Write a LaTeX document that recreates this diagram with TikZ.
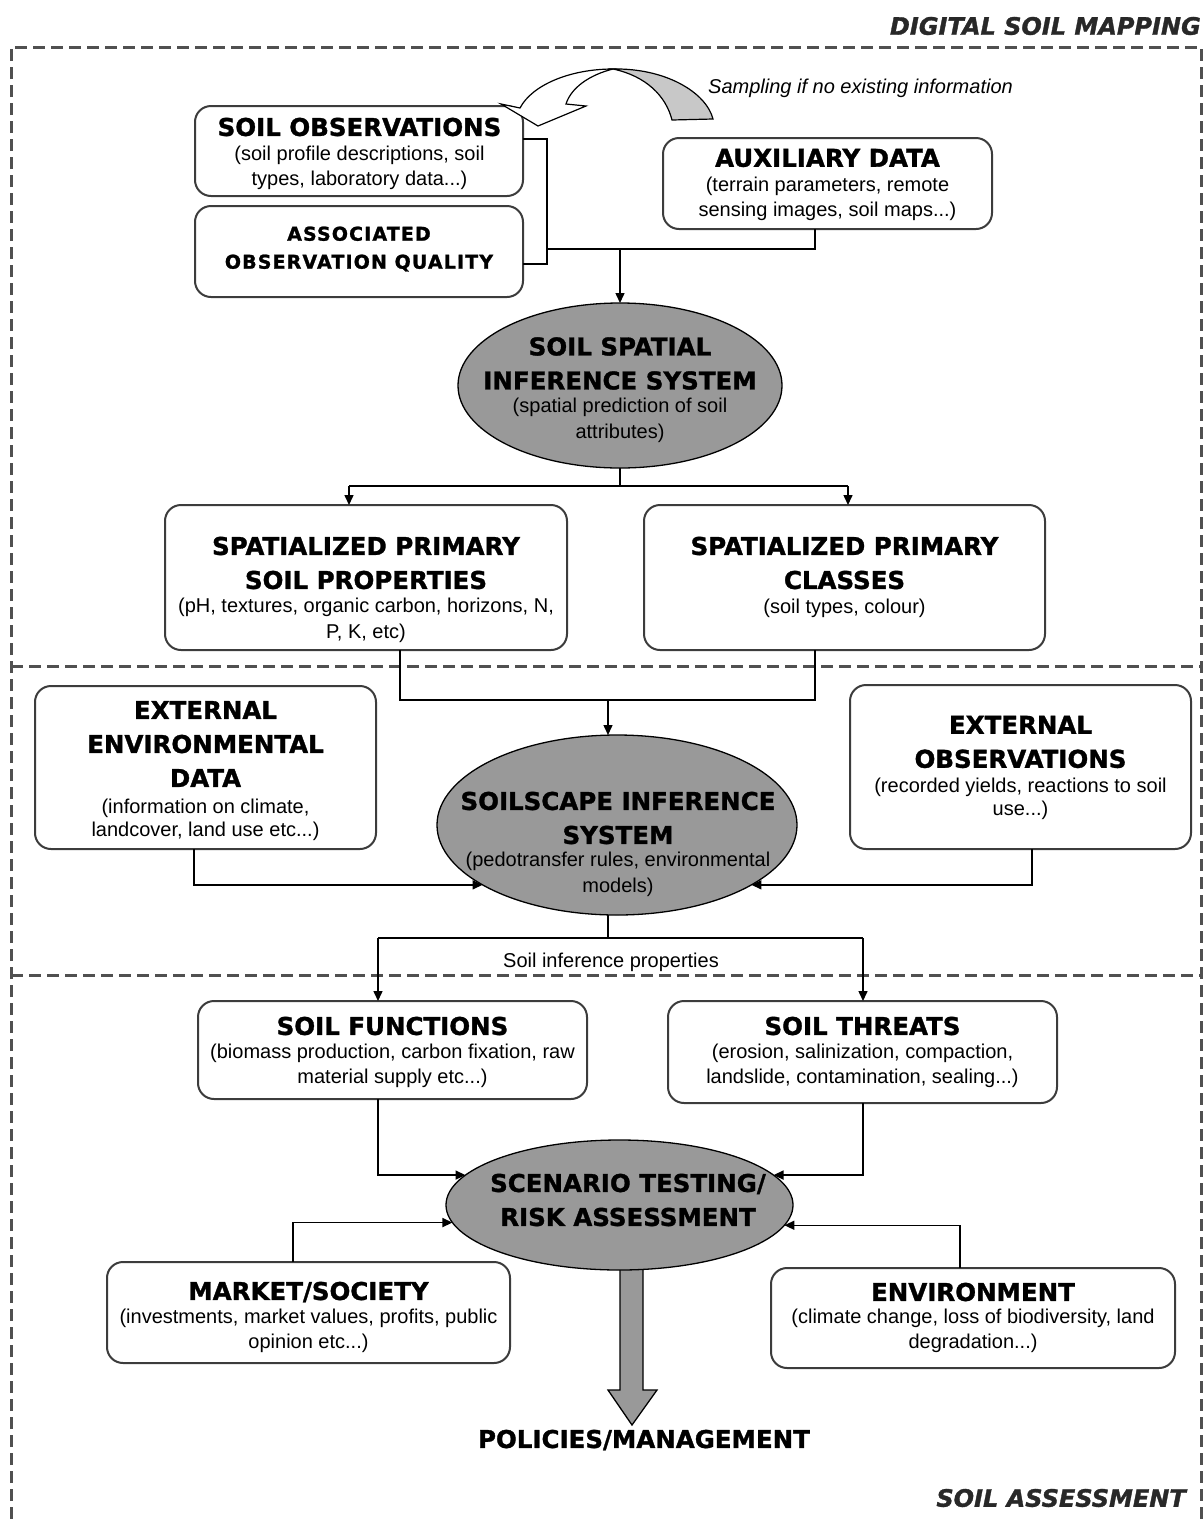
\documentclass[tikz,border=0pt]{standalone}
\usepackage{fontspec}
\setmainfont{Liberation Sans}
\newfontfamily\titlef{DejaVu Sans}[BoldFeatures={FakeBold=1.3}]
\newfontfamily\labf{DejaVu Sans}[BoldItalicFeatures={FakeBold=1.3}]
\newfontfamily\assocf{DejaVu Sans}[LetterSpace=6, BoldFeatures={FakeBold=1.3}]
\usetikzlibrary{shapes.geometric,arrows.meta}
\definecolor{boxgray}{RGB}{60,60,60}
\definecolor{ellgray}{RGB}{153,153,153}
\definecolor{ribbon}{RGB}{200,200,200}
\definecolor{dashgray}{RGB}{80,80,80}
\definecolor{labgray}{RGB}{40,40,40}
\tikzset{
  box/.style={draw=boxgray, line width=2pt, rounded corners=16pt, fill=white, inner sep=0pt, outer sep=0pt},
  ell/.style={ellipse, draw=black, line width=1.3pt, fill=ellgray, inner sep=0pt, outer sep=0pt},
  ttl/.style={font=\titlef\bfseries\fontsize{24.5}{34}\selectfont, align=center, inner sep=0pt},
  asc/.style={font=\assocf\bfseries\fontsize{19}{28}\selectfont, align=center, inner sep=0pt},
  bdy/.style={font=\fontsize{20}{25.5}\selectfont, align=center, inner sep=0pt},
  lab/.style={font=\labf\bfseries\itshape\fontsize{24}{28}\selectfont, text=labgray, inner sep=0pt},
  conn/.style={line width=1.5pt, draw=black},
  arr/.style={conn, -{Triangle[length=10pt,width=9pt]}},
  dashframe/.style={draw=dashgray, line width=3pt, dash pattern=on 12pt off 6pt},
}
\begin{document}
\begin{tikzpicture}[x=1pt,y=-1pt]
\useasboundingbox (0,0) rectangle (1203,1519);

% dashed frame
\draw[dashframe] (11,1519) -- (11,47) -- (1201,47) -- (1201,1519);
\draw[dashframe] (11,666) -- (1201,666);
\draw[dashframe] (11,975) -- (1201,975);

% labels of zones
\node[lab, anchor=east] (dsm) at (1201,26) {DIGITAL SOIL MAPPING};
\node[lab, anchor=east] (sas) at (1186,1498) {SOIL ASSESSMENT};

% shapes
\node[box, minimum width=328pt, minimum height=90pt] (obs) at (359,151) {};
\node[box, minimum width=328pt, minimum height=91pt] (assoc) at (359,251.5) {};
\node[box, minimum width=329pt, minimum height=91pt] (aux) at (827.5,183.5) {};
\node[box, minimum width=402pt, minimum height=145pt] (prop) at (366,577.5) {};
\node[box, minimum width=401pt, minimum height=145pt] (cls) at (844.5,577.5) {};
\node[box, minimum width=341pt, minimum height=163pt] (ext) at (205.5,767.5) {};
\node[box, minimum width=341pt, minimum height=164pt] (extobs) at (1020.5,767) {};
\node[box, minimum width=389pt, minimum height=98pt] (func) at (392.5,1050) {};
\node[box, minimum width=389pt, minimum height=102pt] (thr) at (862.5,1052) {};
\node[box, minimum width=403pt, minimum height=101pt] (mkt) at (308.5,1312.5) {};
\node[box, minimum width=404pt, minimum height=100pt] (env) at (973,1318) {};

% coordinates of bends
\coordinate (b1) at (547,139);
\coordinate (b2) at (547,264);
\coordinate (b3) at (547,249);
\coordinate (b4) at (815,249);
\coordinate (b5) at (620,249);
\coordinate (s1) at (620,486);
\coordinate (sL) at (349,486);
\coordinate (sR) at (848,486);
\coordinate (m1) at (400,700);
\coordinate (m2) at (815,700);
\coordinate (m3) at (608,700);
\coordinate (l1) at (194,885);
\coordinate (r1) at (1032,885);
\coordinate (p0) at (608,938);
\coordinate (p1) at (378,938);
\coordinate (p2) at (863,938);
\coordinate (q1) at (378,1176);
\coordinate (q2) at (863,1176);
\coordinate (q3) at (293,1222);
\coordinate (q4) at (960,1226);

% big arrow to policies
\draw[line width=1.3pt, fill=ellgray] (620,1262) -- (620,1390) -- (608,1390) -- (632,1425) -- (657,1390) -- (643,1390) -- (643,1262) -- cycle;

% ellipses
\node[ell, minimum width=324pt, minimum height=165pt] (e1) at (620,385.5) {};
\node[ell, minimum width=360pt, minimum height=180pt] (e2) at (617,825) {};
\node[ell, minimum width=347pt, minimum height=130pt] (e3) at (619.5,1205) {};

% connectors
\draw[conn] (b1 -| obs.east) -- (b1) -- (b2) -- (b2 -| assoc.east);
\draw[conn] (b3) -- (b4) -- (b4 |- aux.south);
\draw[arr] (b5) -- (e1.north);

\draw[conn] (e1.south) -- (s1);
\draw[conn] (sL) -- (sR);
\draw[arr] (sL) -- (sL |- prop.north);
\draw[arr] (sR) -- (sR |- cls.north);

\draw[conn] (m1 |- prop.south) -- (m1) -- (m2) -- (m2 |- cls.south);
\draw[arr] (m3) -- (m3 |- e2.north);

\draw[arr] (l1 |- ext.south) |- (e2.204);
\draw[arr] (r1 |- extobs.south) |- (e2.336);

\draw[conn] (p0 |- e2.south) -- (p0);
\draw[conn] (p1) -- (p2);
\draw[arr] (p1) -- (p1 |- func.north);
\draw[arr] (p2) -- (p2 |- thr.north);

\draw[arr] (q1 |- func.south) |- (e3.169);
\draw[arr] (q2 |- thr.south) |- (e3.11);
\draw[arr] (q3 |- mkt.north) |- (e3.186);
\draw[arr] (q4 |- env.north) |- (e3.353);

% curved sampling arrow
\draw[line width=1.2pt, fill=ribbon] (613,69) .. controls (665,68) and (706,92) .. (713,119) -- (672,120) .. controls (666,96) and (646,76) .. (613,69) -- cycle;
\draw[line width=1.2pt, fill=white, line join=miter] (613,69) .. controls (570,69) and (532,85) .. (520,108) -- (501,104) -- (538,126) -- (586,106) -- (566,104) .. controls (571,88) and (589,75) .. (613,69) -- cycle;
\node[font=\itshape\fontsize{20}{22}\selectfont, anchor=west, inner sep=0pt] (samp) at (708,88) {Sampling if no existing information};

% texts
\node[ttl] (obsT) at (359.5,127) {SOIL OBSERVATIONS};
\node[bdy] (obsB) at (359.5,168) {(soil profile descriptions, soil\\types, laboratory data...)};
\node[asc] (ascT) at (359,249) {ASSOCIATED\\OBSERVATION QUALITY};
\node[ttl] (auxT) at (827.5,158) {AUXILIARY DATA};
\node[bdy] (auxB) at (827.5,199) {(terrain parameters, remote\\sensing images, soil maps...)};

\node[ttl] (e1T) at (620,363.5) {SOIL SPATIAL\\INFERENCE SYSTEM};
\node[bdy] (e1B) at (620,420.5) {(spatial prediction of soil\\attributes)};

\node[ttl] (propT) at (366,563) {SPATIALIZED PRIMARY\\SOIL PROPERTIES};
\node[bdy] (propB) at (366,620.5) {(pH, textures, organic carbon, horizons, N,\\P, K, etc)};
\node[ttl] (clsT) at (844.5,563) {SPATIALIZED PRIMARY\\CLASSES};
\node[bdy] (clsB) at (844.5,608) {(soil types, colour)};

\node[ttl] (extT) at (205.5,744) {EXTERNAL\\ENVIRONMENTAL\\DATA};
\node[bdy, font=\fontsize{20}{23}\selectfont] (extB) at (205.5,820) {(information on climate,\\landcover, land use etc...)};
\node[ttl] (e2T) at (618,818) {SOILSCAPE INFERENCE\\SYSTEM};
\node[bdy] (e2B) at (618,874.5) {(pedotransfer rules, environmental\\models)};
\node[ttl] (eoT) at (1020.5,742) {EXTERNAL\\OBSERVATIONS};
\node[bdy, font=\fontsize{20}{23}\selectfont] (eoB) at (1020.5,798.5) {(recorded yields, reactions to soil\\use...)};

\node[bdy] (sip) at (611,962) {Soil inference properties};

\node[ttl] (funcT) at (392.5,1026) {SOIL FUNCTIONS};
\node[bdy] (funcB) at (392.5,1066) {(biomass production, carbon fixation, raw\\material supply etc...)};
\node[ttl] (thrT) at (862.5,1026) {SOIL THREATS};
\node[bdy] (thrB) at (862.5,1066) {(erosion, salinization, compaction,\\landslide, contamination, sealing...)};

\node[ttl] (e3T) at (628,1200) {SCENARIO TESTING/\\RISK ASSESSMENT};

\node[ttl] (mktT) at (308.5,1292) {MARKET/SOCIETY};
\node[bdy] (mktB) at (308.5,1331) {(investments, market values, profits, public\\opinion etc...)};
\node[ttl] (envT) at (973,1292) {ENVIRONMENT};
\node[bdy] (envB) at (973,1331) {(climate change, loss of biodiversity, land\\degradation...)};

\node[ttl] (pol) at (644,1440) {POLICIES/MANAGEMENT};
\end{tikzpicture}
\end{document}
